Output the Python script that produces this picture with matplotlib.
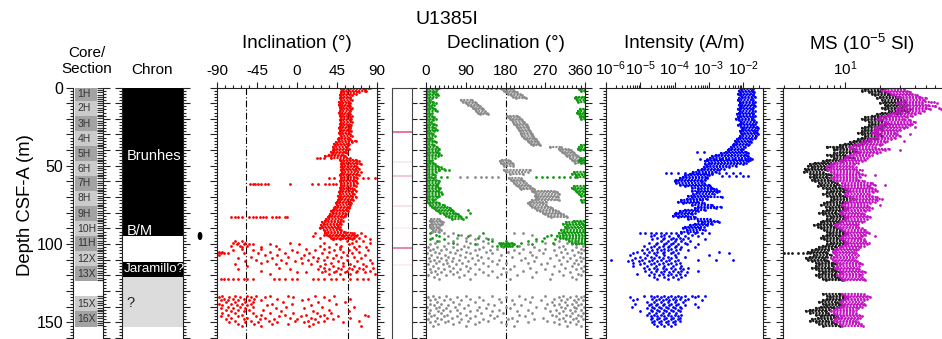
import numpy as np
import matplotlib.pyplot as plt
import matplotlib.transforms as mtransforms
from matplotlib.patches import Ellipse
from matplotlib.ticker import MultipleLocator, FuncFormatter, LogLocator, NullFormatter

plt.rcParams['font.family'] = ['Liberation Sans', 'DejaVu Sans']
plt.rcParams['axes.unicode_minus'] = False
plt.rcParams['mathtext.fontset'] = 'custom'
plt.rcParams['mathtext.rm'] = 'Liberation Sans'
plt.rcParams['mathtext.it'] = 'Liberation Sans:italic'
plt.rcParams['mathtext.bf'] = 'Liberation Sans:bold'

# ---------------- data (depth in m CSF-A) ----------------
core_names = ['1H', '2H', '3H', '4H', '5H', '6H', '7H', '8H', '9H', '10H',
              '11H', '12X', '13X', '15X', '16X']
core_top = [0, 8.4, 18.2, 27.8, 37.4, 47.0, 56.5, 66.0, 75.7, 85.3,
            94.8, 104.4, 114.0, 133.2, 142.8]
core_bot = [8.4, 18.2, 27.8, 37.4, 47.0, 56.5, 66.0, 75.7, 85.3, 94.8,
            104.4, 114.0, 123.6, 142.8, 152.7]

chron_top = [0, 94.8, 111.2, 120.8]
chron_bot = [94.8, 111.2, 120.8, 152.7]
chron_fill = ['black', 'white', 'black', '#dcdcdc']
chron_labels = [('Brunhes', 44.0), ('B/M', 91.4), ('Jaramillo?', 116.0), ('?', 137.6)]
bm_depth = 94.8

thin_depth = [28.2, 47.4, 56.5, 75.5, 89.9, 102.7, 113.3]
thin_strength = [0.85, 0.12, 0.35, 0.18, 0.08, 0.75, 0.10]

gad_inc = 57

# inclination: dense band 0-97 m (1 m steps), low / high edges
inc_lo = [52, 50, 52, 50, 50, 48, 50, 48, 49, 47, 48, 47, 49, 48, 50, 48, 47, 49, 48, 49,
          50, 48, 49, 48, 50, 48, 47, 49, 48, 47, 48, 49, 47, 46, 47, 44, 42, 43, 40, 42,
          41, 38, 40, 36, 32, 38, 48, 50, 52, 50, 51, 49, 52, 50, 51, 50, 48, 50, 49, 50,
          48, 50, 49, 50, 48, 49, 48, 47, 48, 46, 48, 47, 46, 45, 44, 45, 43, 42, 40, 38,
          40, 37, 36, 35, 33, 32, 28, 30, 27, 28, 26, 30, 32, 32, 34, 36, 38, 40]
inc_hi = [80, 76, 78, 70, 66, 62, 60, 60, 62, 59, 60, 58, 60, 62, 61, 60, 59, 60, 62, 60,
          61, 60, 62, 59, 61, 60, 60, 59, 61, 58, 60, 62, 59, 60, 66, 62, 58, 57, 56, 58,
          55, 54, 56, 52, 54, 60, 66, 70, 68, 72, 66, 68, 70, 66, 72, 68, 70, 66, 68, 64,
          66, 68, 64, 66, 62, 64, 66, 62, 64, 62, 66, 62, 63, 60, 61, 60, 58, 58, 56, 57,
          54, 55, 54, 52, 50, 52, 48, 50, 46, 48, 46, 50, 54, 62, 64, 66, 64, 62]
inc_rows = [
    (0, [76, 82]), (2, [76]), (45, [22, 26, 30]), (57.5, [36, 42, 74, 80, 88]),
    (61.5, [-53, -50, -47, -44, -40, -36, -33, -8, 17, 24, 32, 36, 40, 44]),
    (83, [-74, -70, -66, -62, -54, -50, -46, -42, -38, -35, -28, -24, -20, -14, -11]),
    (93, [20, 64, 72]), (94, [30, 44, 68]), (95, [18, 52, 76]), (96, [26, 60, 70]),
    (97, [40, 48, 82]), (98, [-70, -62, 56, 66, 74]),
    (99, [-72, -66, -58, -8, 30, 62, 82]), (100, [-68, -60, -54, -50, -30, 2, 44, 58]),
    (101, [-74, -64, -56, -24, 26, 50, 70]), (102, [-62, -40, 36, 48, 64, 78]),
    (103, [-62, -40, -20, 10, 30, 48, 66]), (104, [-72, -50, -6, 20, 42, 58, 80]),
    (105, [-88, -84, -30, 0, 36, 52, 70]),
    (106, [-90, -86, -82, -78, -60, -44, -14, 14, 28, 62]),
    (107, [-88, -36, -22, 8, 44, 56, 76]), (108, [-52, -10, 18, 34, 50, 64]),
    (109, [-66, -28, 4, 24, 40, 72]), (110, [-46, -18, 12, 30, 56, 82]),
    (111, [-58, -34, -2, 22, 46, 68]), (112, [-40, -12, 6, 38, 52, 84]),
    (113, [-70, -24, 16, 32, 60, 74]), (114, [-56, 26, 40, 52, 64, 78]),
    (115, [-20, 30, 46, 58, 70, 86]), (116, [-66, -8, 24, 36, 50, 62, 74]),
    (117, [-40, 32, 44, 56, 68, 82]), (118, [0, 10, 28, 42, 54, 66, 76]),
    (119, [-30, 36, 48, 60, 88]),
    (122, [-86, -82, -78, -72, -66, -60, -56, -50, -26, -20, -14, -6, 0,
           18, 24, 30, 38, 44, 52, 60, 68, 74, 80]),
    (133, [-84, -70, -56, -46, -30, -10, 20, 42]), (134, [-88, -76, -64, -52, -36, -4, 30]),
    (135, [-82, -72, -60, -48, -22, 12, 60]), (136, [-86, -78, -66, -54, -40, 6, 36]),
    (137, [-80, -70, -58, -50, -16, 24, 54]), (138, [-88, -74, -62, -52, -28, -6, 44]),
    (139, [-84, -68, -56, -34, 16]), (140, [-78, -64, -50, -12, 28, 64]),
    (141, [-86, -72, -58, -24, 8]), (142, [-80, -66, -54, -38, 36]),
    (143, [-74, -60, -18, 18, 58]), (144, [-84, -70, -50, -30, -4, 22, 38]),
    (145, [-78, -62, -40, -14, 10, 30, 76]), (146, [-86, -66, -46, -20, 4, 26, 46, 80]),
    (147, [-74, -56, -36, -8, 16, 34, 60]), (148, [-80, -60, -42, -26, 0, 20, 40]),
    (149, [-70, -52, -32, -2, 12, 30, 70]), (150, [-76, -58, -44, -22, 8, 24, 52]),
    (151, [-66, -48, -28, -10, 18]), (152, [-62, -40, 14, 72]),
]

# declination: green (corrected) near 0 deg, 0-84 m
g0_lo = [2, 1, 3, 1, 2, 0, 2, 1, 0, 1, 2, 0, 1, 0, 2, 1, 0, 1, 0, 1,
         2, 0, 1, 0, 2, 1, 0, 1, 2, 0, 1, 0, 2, 1, 0, 1, 0, 1, 2, 1,
         0, 1, 2, 0, 1, 0, 1, 0, 1, 2, 0, 1, 0, 1, 0, 1, 0, 1, 0, 2,
         0, 1, 2, 0, 1, 0, 2, 1, 0, 1, 2, 0, 1, 2, 6, 10, 14, 18, 22, 28,
         32, 40, 46, 52, 58]
g0_hi = [30, 26, 22, 18, 24, 28, 22, 14, 10, 16, 22, 18, 12, 16, 20, 24, 14, 10, 14, 18,
         22, 16, 12, 18, 22, 16, 20, 24, 18, 12, 16, 20, 14, 10, 18, 22, 14, 18, 26, 30,
         28, 24, 30, 34, 28, 20, 14, 10, 16, 20, 26, 34, 40, 30, 22, 16, 20, 12, 18, 22,
         30, 28, 24, 26, 32, 30, 28, 34, 36, 30, 26, 20, 16, 22, 30, 40, 48, 54, 58, 62,
         66, 72, 76, 80, 84]
# green near 360 deg
g360_d = [0, 1, 2, 6, 7, 8, 9, 14, 15, 16, 17, 18, 19, 20, 37, 38, 39, 40, 45, 46,
          47, 48, 54, 55, 56, 57, 63, 64, 65, 66, 67, 68, 69, 72, 73, 85, 86, 87, 88, 89,
          90, 91, 92, 93, 94, 95, 96, 97, 98, 99, 100]
g360_lo = [350, 346, 350, 340, 338, 342, 345, 348, 344, 342, 346, 350, 348, 352, 350, 346,
           344, 348, 352, 348, 346, 350, 336, 330, 340, 342, 334, 330, 336, 340, 342, 346,
           350, 352, 354, 335, 318, 310, 320, 314, 318, 306, 312, 300, 310, 296, 304, 316,
           324, 330, 340]
g360_hi = [360, 360, 360, 358, 360, 360, 360, 360, 360, 358, 360, 360, 360, 360, 360, 360,
           360, 360, 360, 360, 360, 360, 360, 360, 360, 360, 360, 358, 360, 360, 360, 360,
           360, 360, 360, 358, 352, 356, 360, 360, 360, 360, 360, 360, 360, 360, 360, 360,
           360, 360, 360]
green_rows = [
    (0, [138, 148, 158]), (53, [30, 42, 52]),
    (57, [20, 35, 48, 248, 262, 275, 288, 300, 312, 325, 338]),
    (78, [95]), (80, [100]), (83, [90]),
    (93, [10, 128]), (94, [22, 72, 282]), (95, [30, 96, 275]), (96, [14, 118, 268, 310]),
    (97, [8, 40, 140, 250, 292]), (98, [25, 150, 182, 230, 262]),
    (99, [60, 165, 170, 175, 180, 186, 192, 195, 215, 288]),
    (100, [110, 168, 172, 178, 182, 185, 188, 196, 200, 240]),
    (101, [160, 170, 176, 180, 186, 190, 194, 205]),
]
# gray (uncorrected) declination streaks: start depth, low edges, high edges (1 m steps)
gray_streaks = [
    (0, [168, 172, 176, 180, 186, 192, 198, 204], [190, 196, 200, 206, 212, 218, 222, 226]),
    (8, [80, 84, 90, 96, 102, 106, 110, 114, 118, 122],
        [104, 110, 114, 118, 122, 126, 130, 134, 138, 140]),
    (18, [183, 186, 190, 194, 198, 200, 204, 206, 208, 210, 212, 214, 216, 218, 222, 226,
          230, 234, 238, 242],
         [206, 210, 214, 218, 222, 226, 228, 230, 232, 234, 236, 238, 240, 242, 244, 248,
          252, 254, 256, 258]),
    (38, [280, 300, 304, 308, 312, 316, 320, 326, 330, 334, 338],
         [306, 322, 328, 332, 336, 340, 344, 348, 352, 356, 358]),
    (46, [172, 168, 170, 174, 176], [186, 190, 194, 196, 198]),
    (53, [176, 180, 190], [236, 230, 220]),
    (58, [188, 192, 196, 200, 204, 208, 212, 216], [214, 218, 222, 226, 232, 236, 240, 244]),
    (66, [240, 244, 250, 246, 252, 248, 240, 236, 232, 236, 240, 246, 252, 258, 264, 270,
          276, 282],
         [290, 296, 300, 296, 298, 292, 300, 272, 266, 272, 280, 286, 292, 298, 304, 310,
          316, 320]),
    (84, [12, 10, 12, 14, 10, 8, 12, 16, 14], [30, 34, 38, 36, 32, 28, 30, 34, 30]),
]
gray_rows = [
    (57, [78, 92, 110, 124, 136, 150, 164]),
    (93, [40, 60, 200, 220]), (94, [80, 100, 240]), (95, [50, 120]), (96, [70, 90, 136]),
    (97, [110, 150]), (98, [30, 60, 90, 130, 250, 300, 340]),
    (99, [20, 50, 100, 140, 270, 320, 350]), (100, [10, 70, 115, 230, 290, 330]),
    (101, [40, 85, 150, 210, 310, 355]), (102, [5, 25, 60, 95, 130, 175, 245, 300, 340]),
    (103, [15, 45, 80, 120, 160, 220, 270, 315, 350]),
    (104, [8, 35, 70, 110, 145, 200, 255, 290, 330, 358]),
    (105, [20, 55, 90, 135, 185, 235, 305, 345]),
    (106, [3, 30, 65, 100, 150, 210, 265, 320, 352]),
    (107, [12, 42, 78, 115, 170, 240, 295, 335]),
    (108, [25, 50, 88, 125, 195, 250, 310, 348]),
    (109, [6, 35, 62, 105, 140, 225, 280, 325, 356]),
    (110, [18, 45, 75, 118, 165, 215, 300, 340]),
    (111, [10, 30, 58, 95, 150, 245, 320, 350]),
    (112, [22, 48, 82, 128, 180, 230, 275, 335]),
    (113, [5, 38, 68, 110, 160, 260, 305, 345]),
    (114, [15, 52, 90, 140, 200, 290, 330, 358]),
    (115, [28, 60, 100, 175, 235, 315, 350]), (116, [8, 40, 78, 120, 190, 270, 340]),
    (117, [20, 55, 95, 150, 220, 300, 355]), (118, [12, 35, 70, 130, 180, 250, 325]),
    (119, [25, 60, 110, 170, 285, 345]), (120, [5, 45, 85, 140, 205, 310, 352]),
    (121, [18, 75, 160, 240, 330]), (122, [30, 100, 190, 280, 340]),
    (133, [15, 45, 90, 150, 210, 270, 310, 340, 358]),
    (134, [5, 30, 70, 120, 180, 240, 300, 325, 350]),
    (135, [20, 55, 100, 165, 225, 290, 320, 345]),
    (136, [10, 40, 80, 130, 195, 260, 305, 335, 356]),
    (137, [25, 60, 110, 170, 235, 285, 315, 340]),
    (138, [8, 35, 75, 140, 200, 275, 300, 330, 352]),
    (139, [18, 50, 95, 155, 215, 290, 320, 345]),
    (140, [3, 30, 65, 120, 180, 250, 305, 335, 358]),
    (141, [22, 45, 85, 135, 190, 270, 315, 340]),
    (142, [10, 38, 70, 115, 165, 230, 295, 325, 350]),
    (143, [28, 55, 100, 150, 205, 280, 310, 338]),
    (144, [6, 33, 78, 125, 175, 240, 300, 330, 355]),
    (145, [18, 48, 90, 145, 210, 285, 318, 345]),
    (146, [12, 40, 70, 110, 160, 225, 295, 325, 350]),
    (147, [25, 58, 100, 155, 195, 265, 310, 340]),
    (148, [5, 35, 80, 130, 185, 245, 300, 332, 356]),
    (149, [20, 50, 95, 140, 205, 275, 315, 345]),
    (150, [10, 42, 75, 120, 170, 230, 290, 325]),
    (151, [28, 60, 110, 180, 300, 340]), (152, [15, 90, 200, 320, 350]),
]

# intensity (log10 A/m): dense band 0-92 m
int_lo = [-2.10, -2.05, -2.12, -2.08, -2.15, -2.10, -2.02, -2.12, -2.15, -2.10,
          -2.08, -2.12, -2.05, -2.10, -2.15, -2.08, -2.12, -2.18, -2.10, -2.14,
          -2.20, -2.12, -2.06, -2.10, -2.15, -2.05, -2.00, -2.04, -2.10, -2.06,
          -2.02, -2.08, -2.12, -2.18, -2.22, -2.20, -2.25, -2.30, -2.35, -2.40,
          -2.45, -2.50, -2.65, -2.80, -2.90, -2.95, -3.05, -3.10, -3.00, -3.10,
          -3.05, -3.15, -3.20, -3.30, -3.45, -3.55, -3.70, -3.75, -3.85, -3.95,
          -4.00, -3.95, -3.85, -3.70, -3.50, -3.30, -3.50, -3.35, -3.45, -3.60,
          -3.50, -3.65, -3.80, -3.90, -3.75, -3.50, -3.30, -3.40, -3.70, -3.85,
          -3.95, -4.00, -4.05, -3.90, -3.60, -3.30, -3.20, -3.40, -3.55, -3.70,
          -3.75, -3.65, -3.80]
int_hi = [-1.72, -1.70, -1.75, -1.68, -1.72, -1.70, -1.66, -1.74, -1.70, -1.66,
          -1.72, -1.68, -1.64, -1.70, -1.75, -1.66, -1.70, -1.72, -1.66, -1.70,
          -1.74, -1.68, -1.62, -1.66, -1.70, -1.60, -1.56, -1.58, -1.64, -1.60,
          -1.55, -1.62, -1.66, -1.74, -1.80, -1.76, -1.82, -1.86, -1.95, -2.00,
          -2.05, -1.90, -1.85, -1.90, -1.85, -1.80, -1.80, -1.85, -1.90, -2.00,
          -2.20, -2.40, -2.55, -2.70, -2.80, -2.90, -3.00, -3.05, -3.05, -3.10,
          -3.20, -3.15, -3.00, -2.95, -2.90, -2.80, -2.70, -2.75, -2.85, -2.95,
          -2.60, -3.05, -3.20, -3.30, -3.15, -2.90, -2.65, -2.80, -3.10, -3.30,
          -3.40, -3.50, -3.60, -3.40, -2.95, -2.75, -2.70, -2.90, -3.05, -3.15,
          -3.25, -3.10, -3.35]
int_rows = [
    (41, [-3.35, -3.15]),
    (45.5, [-3.25, -3.05, -2.85, -2.65, -2.45, -2.25, -2.05, -1.9, -1.75]),
    (54.6, [-4.25, -4.1, -3.9, -3.7, -3.5, -3.3, -3.1, -2.9, -2.7, -2.5, -2.3, -2.1]),
    (56.5, [-2.6, -2.4, -2.2, -2.0, -1.85]),
    (93, [-5.0, -4.85, -4.7, -4.55, -4.4, -4.25, -4.1, -3.95, -3.8, -3.6, -3.4, -3.2, -3.0]),
    (94, [-4.6, -4.3, -3.9, -3.5]), (95, [-4.7, -4.4, -4.15, -3.9, -3.7, -3.3]),
    (96, [-4.5, -4.3, -4.05, -3.85, -3.6]), (97, [-4.65, -4.35, -4.1, -3.95, -3.75, -3.1]),
    (98, [-4.4, -4.2, -4.0, -3.8, -3.55]), (99, [-4.75, -4.5, -4.25, -4.05, -3.7]),
    (100, [-4.55, -4.3, -4.1, -3.9, -3.65, -3.3]), (101, [-4.9, -4.6, -4.35, -4.15, -3.95]),
    (102, [-4.7, -4.45, -4.2, -4.0, -3.8, -3.4]), (103, [-4.8, -4.5, -4.3, -4.1, -3.85]),
    (104, [-4.95, -4.65, -4.4, -4.2, -3.95, -3.6]),
    (105, [-5.1, -4.75, -4.5, -4.3, -4.05, -2.7]),
    (106, [-5.2, -4.9, -4.6, -4.35, -4.1, -3.9, -2.4]),
    (107, [-5.3, -4.8, -4.55, -4.3, -4.0, -3.0]),
    (108, [-5.0, -4.7, -4.45, -4.2, -3.95, -3.7]), (109, [-5.15, -4.85, -4.6, -4.35, -4.1]),
    (110, [-5.84, -5.25, -4.95, -4.65, -4.4, -4.15, -3.9, -3.3, -2.8, -2.3]),
    (111, [-5.35, -5.05, -4.75, -4.5, -4.25, -4.0]),
    (112, [-5.2, -4.9, -4.6, -4.35, -4.1, -3.85]), (113, [-5.0, -4.7, -4.45, -4.2, -3.95]),
    (114, [-5.2, -4.8, -4.55, -4.3, -4.05, -3.8]),
    (115, [-4.9, -4.6, -4.35, -4.1, -3.85, -3.6]), (116, [-4.75, -4.5, -4.25, -4.0, -3.75]),
    (117, [-4.85, -4.55, -4.3, -4.05, -3.8, -3.3]), (118, [-4.7, -4.4, -4.15, -3.9, -3.65]),
    (119, [-5.1, -4.6, -4.35, -4.1, -3.85]), (120, [-4.75, -4.45, -4.2, -3.95, -3.7]),
    (121, [-4.6, -4.3, -4.05, -3.8]), (122, [-4.5, -4.2, -3.9]),
    (133, [-4.9, -4.7, -4.5, -4.3, -4.1, -3.9, -3.7, -3.5, -3.3, -3.1]),
    (134, [-5.3, -4.6, -4.4, -4.2, -4.0, -3.8, -3.4]),
    (135, [-5.1, -4.65, -4.45, -4.25, -4.05, -3.85, -3.6]),
    (136, [-5.2, -4.55, -4.35, -4.15, -3.95, -3.7, -3.2]),
    (137, [-4.8, -4.6, -4.4, -4.2, -4.0, -3.75]),
    (138, [-5.15, -4.7, -4.5, -4.3, -4.1, -3.9, -3.4]),
    (139, [-4.75, -4.55, -4.35, -4.15, -3.95, -3.7]),
    (140, [-5.25, -4.65, -4.45, -4.25, -4.05, -3.85, -3.3]),
    (141, [-4.8, -4.6, -4.4, -4.2, -4.0, -3.8]), (142, [-4.7, -4.5, -4.3, -4.1, -3.9]),
    (143, [-5.0, -4.65, -4.45, -4.25, -4.05, -3.85]),
    (144, [-4.75, -4.55, -4.35, -4.15, -3.95]), (145, [-4.8, -4.6, -4.4, -4.2, -4.0, -3.8]),
    (146, [-4.7, -4.5, -4.3, -4.1, -3.9]), (147, [-4.65, -4.45, -4.25, -4.05, -3.85]),
    (148, [-4.7, -4.5, -4.3, -4.1, -3.9]), (149, [-4.6, -4.4, -4.2, -4.0, -3.85]),
    (150, [-4.65, -4.45, -4.25, -4.05]), (151, [-4.6, -4.4, -4.2, -4.0]),
    (152, [-4.5, -4.3, -4.1]),
]

# magnetic susceptibility (10^-5 SI), bands at 1 m steps over 0-123 m and 132-152 m
ms_depth = list(range(0, 124)) + list(range(132, 153))
msk_lo = [14, 15, 14, 16, 17, 18, 20, 19, 21, 22, 20, 22, 23, 21, 22, 24, 21, 19, 17, 15,
          14, 15, 16, 17, 16, 15, 14, 15, 14, 13, 14, 15, 14, 13, 12, 11, 10, 9, 7, 8,
          8, 9, 8, 7, 7.5, 8, 7, 6.5, 5.5, 5, 4.8, 5.2, 4.5, 4.6, 4.4, 5, 5.4, 5, 5.4, 5.2,
          5.5, 6, 6.2, 5.8, 6.5, 7, 7.5, 7, 6.5, 7, 7.5, 8, 7.5, 7, 6.6, 6.2, 6.8, 7.4, 7, 6.5,
          6, 6.4, 7, 7.5, 7, 6.5, 6.2, 5.8, 5.4, 5.8, 6.2, 6.6, 7, 7.4, 7, 6.5, 6.2, 6.6, 7, 7.5,
          7, 6.5, 6, 5.6, 5.2, 4.8, 5, 5.4, 5, 4.6, 4.8, 5.2, 5.6, 6, 5.6, 5.2, 5.6, 6, 6.4, 6,
          5.6, 6, 6.4, 6.8,
          6.5, 7, 7.4, 7, 6.5, 6, 6.4, 6.8, 6.2, 5.6, 5, 4.6, 5, 5.6, 6.2, 5.8, 5.2, 5, 5.6, 6,
          6.4]
msk_hi = [22, 21, 20, 23, 24, 26, 30, 28, 32, 33, 30, 34, 33, 31, 36, 34, 30, 28, 24, 22,
          20, 21, 22, 24, 22, 21, 20, 21, 19, 18, 20, 21, 19, 18, 16, 15, 14, 13, 11, 12,
          12, 13, 11, 10, 10.5, 12, 10, 9.5, 8, 7.5, 7, 7.4, 6.8, 7, 6.5, 7.2, 7.6, 7, 7.5, 7.2,
          7.8, 8.6, 8.8, 8.2, 9, 10, 10.5, 9.8, 9, 10, 11, 12, 11, 10, 9.5, 8.8, 9.6, 10.5, 10,
          9.2, 8.4, 9, 9.8, 10.5, 10, 9.2, 8.8, 8.2, 7.6, 8, 8.6, 9.2, 9.8, 10.2, 9.6, 9, 8.5,
          9.2, 9.8, 10.5, 10, 9, 8.4, 7.8, 7.2, 6.8, 7, 7.5, 7, 6.6, 6.8, 7.2, 7.8, 8.4, 7.8,
          7.3, 7.8, 8.4, 9, 8.4, 8, 8.5, 9, 9.4,
          9, 9.8, 10.4, 9.8, 9.2, 8.6, 9, 9.6, 8.8, 8, 7.4, 6.8, 7.2, 8, 8.6, 8.2, 7.6, 7.2,
          7.8, 8.4, 9]
msm_lo = [20, 22, 21, 23, 25, 26, 28, 30, 32, 30, 28, 30, 32, 28, 30, 28, 26, 24, 22, 20,
          19, 20, 22, 21, 20, 19, 18, 19, 18, 17, 18, 19, 17, 16, 15, 14, 13, 12, 11, 11,
          12, 13, 12, 11, 10.5, 10, 9.5, 9, 8, 7.5, 7, 7.5, 7, 7.2, 7.5, 8, 8.5, 8, 7.6, 8,
          8.6, 9.5, 10, 9.5, 10, 10.5, 11, 10.5, 10, 10.5, 11, 12, 11, 10.5, 10, 9.5, 10, 10.5,
          10, 9.5, 9, 9.5, 10, 10.5, 10, 9.5, 9, 8.5, 8.2, 8.6, 9, 9.5, 10, 10.5, 10, 9.4, 9,
          9.5, 10, 10.5, 10, 9.5, 9, 8.6, 8.2, 7.8, 8, 8.4, 8, 7.6, 7.8, 8.2, 8.6, 9, 8.6, 8.2,
          8.6, 9, 9.4, 9, 8.6, 9, 9.4, 9.8,
          9.5, 10, 10.5, 10, 9.5, 9, 9.4, 9.8, 9.2, 8.6, 8, 7.6, 8, 8.6, 9.2, 8.8, 8.2, 8, 8.6,
          9, 9.4]
msm_hi = [30, 32, 34, 36, 38, 42, 44, 50, 48, 55, 46, 52, 60, 50, 54, 48, 44, 40, 38, 34,
          32, 36, 40, 38, 36, 34, 32, 30, 28, 27, 28, 30, 27, 25, 23, 22, 21, 20, 18, 24,
          22, 20, 19, 17, 16, 15.5, 15, 14, 13, 12, 11.5, 12.5, 12, 14, 13, 14, 15, 13.5, 12.5,
          13, 14.5, 17, 18, 16, 17, 18, 19, 17.5, 16, 17, 19, 21, 19, 18, 16.5, 15.5, 16, 17,
          16, 15, 14, 14.5, 15.5, 16.5, 15.5, 14.5, 14, 13, 12.5, 13, 14, 15, 15.5, 16, 15, 14,
          13.5, 14.5, 15, 16, 15.5, 14.5, 13.5, 13, 12.5, 12, 12.5, 13, 12.5, 11.8, 12.2, 12.8,
          13.4, 14, 13.2, 12.6, 13.2, 14, 14.8, 14, 13.5, 14, 14.6, 15,
          14.5, 15.5, 16.5, 15.5, 14.5, 14, 14.6, 15, 14, 13, 12.4, 11.8, 12.4, 13.2, 14, 13.4,
          12.6, 12.2, 13, 13.6, 14.2]
msk_rows = [(38, [7, 7.8, 8.6, 9.5]), (106, [2.95, 3.2, 3.5, 3.9, 4.3, 4.7])]
msm_rows = [(9, [58]), (10, [62]), (12, [60]), (13, [64]), (14, [67]), (25, [40]),
            (30, [36]), (34, [32]), (40, [30]), (56, [18]), (62, [22]), (75, [20]), (95, [18])]


def expand(rows):
    d, v = [], []
    for depth, vals in rows:
        d += [depth] * len(vals)
        v += list(vals)
    return np.array(d, float), np.array(v, float)


# ---------------- layout ----------------
W, H = 942, 339
TOP = 87.5
DMAX = 160.6
fig = plt.figure(figsize=(W / 100, H / 100), dpi=100)
RED, GREEN, GRAY, BLUE = '#ff0000', '#129912', '#8c8c8c', '#0000ff'
DOT = 2.0


def panel(x0, x1):
    ax = fig.add_axes([x0 / W, 0, (x1 - x0) / W, (H - TOP) / H])
    ax.set_ylim(DMAX, 0)
    ax.yaxis.set_major_locator(MultipleLocator(10))
    ax.yaxis.set_minor_locator(MultipleLocator(2))
    ax.tick_params(axis='y', which='both', direction='out', left=True, right=True,
                   labelleft=False, width=0.8, color='#222222')
    ax.tick_params(axis='y', which='major', length=5)
    ax.tick_params(axis='y', which='minor', length=2.5)
    ax.spines['bottom'].set_visible(False)
    for s in ax.spines.values():
        s.set_linewidth(0.8)
        s.set_color('#222222')
    return ax


def top_ticks(ax):
    ax.xaxis.tick_top()
    ax.tick_params(axis='x', which='both', direction='out', top=True, bottom=False,
                   labeltop=True, labelbottom=False, labelsize=11, pad=2,
                   width=0.8, color='#222222')
    ax.tick_params(axis='x', which='major', length=4.5)
    ax.tick_params(axis='x', which='minor', length=2.5)


def nudge_label(ax, index, dx_px):
    lab = ax.xaxis.get_major_ticks()[index].label2
    lab.set_transform(lab.get_transform() + mtransforms.Affine2D().translate(dx_px, 0))


def band(ax, depth, lo, hi, color, lw=1.7):
    # dense measurements: dotted strokes between the low and high edge of each level
    lc = ax.hlines(depth, lo, hi, colors=color, lw=lw, linestyles=(0, (0.1, 1.25)))
    lc.set_capstyle('round')
    ax.plot(lo, depth, 'o', ms=DOT, mew=0, color=color, ls='none')
    ax.plot(hi, depth, 'o', ms=DOT, mew=0, color=color, ls='none')


def dots(ax, d, v, color):
    ax.plot(v, d, 'o', ms=DOT, mew=0, color=color, ls='none')


def header(ax, text, y=1.173, size=13.5):
    ax.text(0.5, y, text, transform=ax.transAxes, ha='center', va='center', fontsize=size)


# ---- core / section column ----
ax_core = panel(73, 103)
ax_core.set_xlim(0, 1)
ax_core.set_xticks([])
ax_core.spines['top'].set_visible(False)
ax_core.tick_params(axis='y', which='both', labelleft=True, labelsize=11.5, pad=2)
ax_core.yaxis.set_major_formatter(FuncFormatter(lambda v, p: f'{v:.0f}' if v % 50 == 0 else ''))
for i, (name, t, b) in enumerate(zip(core_names, core_top, core_bot)):
    shade = '#a3a3a3' if i % 2 == 0 else '#cbcbcb'
    ax_core.bar(0.43, b - t, bottom=t, width=0.72, color=shade, lw=0)
    ax_core.text(0.15, (t + b) / 2, name, ha='left', va='center', fontsize=7.5, color='#333333')
    ax_core.hlines(np.arange(t, b, 1.5), 0.79, 1.0, colors='#333333', lw=0.9)
ax_core.text(0.47, 1.105, 'Core/\nSection', transform=ax_core.transAxes,
             ha='center', va='center', fontsize=11)

# ---- chron column ----
ax_chron = panel(122, 183)
ax_chron.set_xlim(0, 1)
ax_chron.set_xticks([])
ax_chron.spines['top'].set_visible(False)
for t, b, c in zip(chron_top, chron_bot, chron_fill):
    ax_chron.bar(0.5, b - t, bottom=t, width=1.0, color=c, lw=0)
for text, d in chron_labels:
    col = '#222222' if text == '?' else 'white'
    size = 9.6 if text.startswith('Jar') else 10.5
    x = 0.025 if text.startswith('Jar') else 0.08
    ax_chron.text(x, d, text, ha='left', va='center', fontsize=size, color=col)
header(ax_chron, 'Chron', y=1.070, size=11)
trans = mtransforms.blended_transform_factory(ax_chron.transAxes, ax_chron.transData)
ax_chron.add_patch(Ellipse((1.279, bm_depth), 0.055, 4.3, transform=trans,
                           color='black', clip_on=False))

# ---- inclination ----
ax_inc = panel(217, 377)
ax_inc.set_xlim(-90, 90)
top_ticks(ax_inc)
ax_inc.set_xticks([-90, -45, 0, 45, 90])
ax_inc.xaxis.set_minor_locator(MultipleLocator(9))
for g in (-gad_inc, gad_inc):
    ax_inc.axvline(g, color='black', lw=0.8, ls='-.', dashes=(6, 2, 1, 2))
band(ax_inc, np.arange(len(inc_lo)), inc_lo, inc_hi, RED)
d, v = expand(inc_rows)
dots(ax_inc, d, v, RED)
header(ax_inc, 'Inclination (°)')

# ---- thin marker column ----
ax_thin = panel(392, 412)
ax_thin.set_xlim(0, 1)
ax_thin.set_xticks([])
ax_thin.tick_params(axis='y', which='minor', left=False, right=False)
ax_thin.tick_params(axis='y', which='major', left=False, length=3.5)
for s in ax_thin.spines.values():
    s.set_color('#444444')
for d0, a in zip(thin_depth, thin_strength):
    ax_thin.axhline(d0, color='#e0407a', lw=1.2, alpha=a)

# ---- declination ----
ax_dec = panel(426, 585)
ax_dec.set_xlim(0, 360)
top_ticks(ax_dec)
ax_dec.set_xticks([0, 90, 180, 270, 360])
ax_dec.xaxis.set_minor_locator(MultipleLocator(10))
nudge_label(ax_dec, 4, -5)
ax_dec.axvline(180, color='black', lw=0.8, ls='-.', dashes=(6, 2, 1, 2))
for start, lo, hi in gray_streaks:
    band(ax_dec, start + np.arange(len(lo)), lo, hi, GRAY)
d, v = expand(gray_rows)
dots(ax_dec, d, v, GRAY)
band(ax_dec, np.arange(len(g0_lo)), g0_lo, g0_hi, GREEN)
band(ax_dec, g360_d, g360_lo, g360_hi, GREEN)
d, v = expand(green_rows)
dots(ax_dec, d, v, GREEN)
header(ax_dec, 'Declination (°)')

# ---- intensity ----
ax_int = panel(606, 763)
ax_int.set_xscale('log')
ax_int.set_xlim(1e-6, 10 ** -1.417)
top_ticks(ax_int)
ax_int.set_xticks([1e-6, 1e-5, 1e-4, 1e-3, 1e-2])
ax_int.xaxis.set_minor_locator(LogLocator(base=10, subs=np.arange(2, 10), numticks=12))
ax_int.xaxis.set_minor_formatter(NullFormatter())
nudge_label(ax_int, 0, 4)
band(ax_int, np.arange(len(int_lo)), 10 ** np.array(int_lo), 10 ** np.array(int_hi), BLUE)
d, v = expand(int_rows)
dots(ax_int, d, 10 ** v, BLUE)
header(ax_int, 'Intensity (A/m)')

# ---- magnetic susceptibility ----
ax_ms = panel(783, 942)
ax_ms.set_xscale('log')
ax_ms.set_xlim(2.92, 68.5)
top_ticks(ax_ms)
ax_ms.spines['right'].set_visible(False)
ax_ms.tick_params(axis='y', which='both', right=False)
ax_ms.xaxis.set_major_locator(LogLocator(base=10, numticks=12))
ax_ms.xaxis.set_minor_locator(LogLocator(base=10, subs=np.arange(2, 10), numticks=12))
ax_ms.xaxis.set_minor_formatter(NullFormatter())
band(ax_ms, ms_depth, msk_lo, msk_hi, '#1c1c1c')
d, v = expand(msk_rows)
dots(ax_ms, d, v, '#1c1c1c')
band(ax_ms, ms_depth, msm_lo, msm_hi, '#c414c4')
d, v = expand(msm_rows)
dots(ax_ms, d, v, '#c414c4')
header(ax_ms, 'MS (10$^{-5}$ SI)')

fig.text(447 / W, 1 - 20 / H, 'U1385I', ha='center', va='center', fontsize=14)
fig.text(25 / W, 1 - 205 / H, 'Depth CSF-A (m)', rotation=90, ha='center', va='center',
         fontsize=13.3)

fig.savefig('out.png', dpi=100)
